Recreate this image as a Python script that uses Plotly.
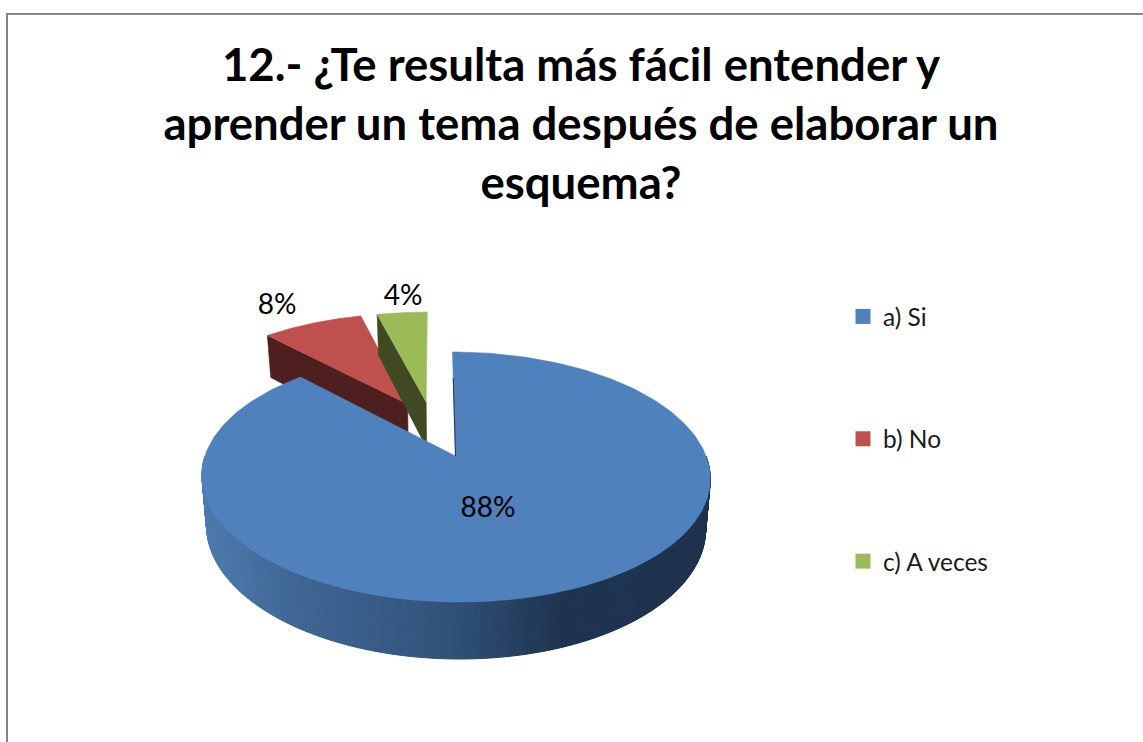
import numpy as np
import plotly.graph_objects as go

# ---- data ----
TITLE = "12.- ¿Te resulta más fácil entender y<br>aprender un tema después de elaborar un<br>esquema?"
categories = ["a) Si", "b) No", "c) A veces"]
values = [88, 8, 4]
labels = ["88%", "8%", "4%"]
top_colors = ["#4F81BD", "#C0504D", "#9BBB59"]
cut_colors = ["#1E3350", "#4D1F1E", "#3F4A22"]
# slice displacement on the pie's plane (exploded slices)
explode_u = [0.0, -0.2, -0.12]
explode_v = [0.0, 0.461, 0.48]
# data label anchors, in pixels of the chart area
label_x = [488, 277, 403]
label_y = [510, 307, 298]

# ---- projection of the tilted pie ----
W, H = 1143, 742
X0, Y0 = 455.5, 456.0
A, B, K, S = 121.5, 250.5, 0.168, -3.5
DEPTH, K2, SHRINK = 49.0, 0.14, 0.982


def project(u, v, z=0.0):
    u, v = np.asarray(u, float), np.asarray(v, float)
    den = 1 + K * v
    x = X0 + (B * u + S * v) / den
    y = Y0 - A * v / den
    if z:
        x = X0 + (x - X0) * SHRINK
        y = y + z * DEPTH / (1 + K2 * v)
    return x, y


def rim(a0, a1, n):
    t = np.radians(np.linspace(a0, a1, n))
    return np.sin(t), np.cos(t)


def poly(x, y, color, width=0.6):
    return go.Scatter(
        x=list(x), y=list(y), mode="lines", fill="toself", fillcolor=color,
        line=dict(color=color, width=width), hoverinfo="skip", showlegend=False,
    )


fracs = np.array(values, float) / sum(values)
ends = np.cumsum(fracs) * 360
starts = np.concatenate([[0], ends[:-1]])

fig = go.Figure()

# exploded slices first (back), then the large slice in front
for i in [1, 2]:
    du, dv = explode_u[i], explode_v[i]
    u, v = rim(starts[i], ends[i], 60)
    u, v = u + du, v + dv
    # left cut face
    xa, ya = project([du], [dv])
    xb, yb = project([u[0]], [v[0]])
    xc, yc = project([u[0]], [v[0]], 1)
    xd, yd = project([du], [dv], 1)
    fig.add_trace(poly([xa[0], xb[0], xc[0], xd[0], xa[0]],
                       [ya[0], yb[0], yc[0], yd[0], ya[0]], cut_colors[i]))
    x, y = project(np.r_[du, u, du], np.r_[dv, v, dv])
    fig.add_trace(poly(x, y, top_colors[i]))

# side wall of the large slice with a left-to-right shade
stops_x = [200, 290, 450, 560, 715]
stops_rgb = np.array([[78, 124, 175], [64, 103, 150], [49, 82, 122], [31, 52, 80], [30, 50, 78]], float)
edge = np.linspace(90, 270, 281)
for a0, a1 in zip(edge[:-1], edge[1:]):
    u, v = rim(a0, a1, 3)
    xt, yt = project(u, v)
    xb, yb = project(u, v, 1)
    xm = xt.mean()
    rgb = [np.interp(xm, stops_x, stops_rgb[:, c]) for c in range(3)]
    col = "rgb(%d,%d,%d)" % tuple(rgb)
    fig.add_trace(poly(np.r_[xt, xb[::-1], xt[0]], np.r_[yt, yb[::-1], yt[0]], col, 1))

u, v = rim(starts[0], ends[0], 240)
x, y = project(np.r_[0, u, 0], np.r_[0, v, 0])
fig.add_trace(poly(x, y, top_colors[0]))

# thin dark edge of the large slice's cut face
xe, ye = project([0.0, 0.0], [0.0, 0.72])
fig.add_trace(go.Scatter(x=list(xe), y=list(ye), mode="lines",
                         line=dict(color=cut_colors[0], width=1),
                         hoverinfo="skip", showlegend=False))

# data labels
fig.add_trace(go.Scatter(x=label_x, y=label_y, mode="text", text=labels,
                         textposition="middle center",
                         textfont=dict(family="Lato", size=28, color="#000000"),
                         hoverinfo="skip", showlegend=False))

# legend entries
for name, col in zip(categories, top_colors):
    fig.add_trace(go.Scatter(x=[None], y=[None], mode="markers", name=name, legendgroup=name,
                             marker=dict(symbol="square", size=15, color=col)))

fig.update_layout(
    width=W, height=H, margin=dict(l=0, r=0, t=0, b=0),
    paper_bgcolor="white", plot_bgcolor="white",
    title=dict(text=TITLE, x=581 / W, y=1 - 81 / H, xanchor="center", yanchor="top",
               font=dict(family="Lato", size=45.5, color="#000000", weight="bold")),
    xaxis=dict(range=[0, W], visible=False, fixedrange=True),
    yaxis=dict(range=[H, 0], visible=False, fixedrange=True),
    legend=dict(x=843 / W, y=1 - 294 / H, xanchor="left", yanchor="top",
                font=dict(family="Lato", size=24.5, color="#1a1a1a"),
                tracegroupgap=87.5, bgcolor="rgba(0,0,0,0)", itemwidth=30),
    shapes=[dict(type="rect", xref="x", yref="y", x0=7, y0=14, x1=W + 20, y1=H + 20,
                 line=dict(color="#868686", width=2), fillcolor="rgba(0,0,0,0)", layer="above")],
)

fig.write_html("out.html", config={"displayModeBar": False},
               post_script="document.body.style.margin='0';")
